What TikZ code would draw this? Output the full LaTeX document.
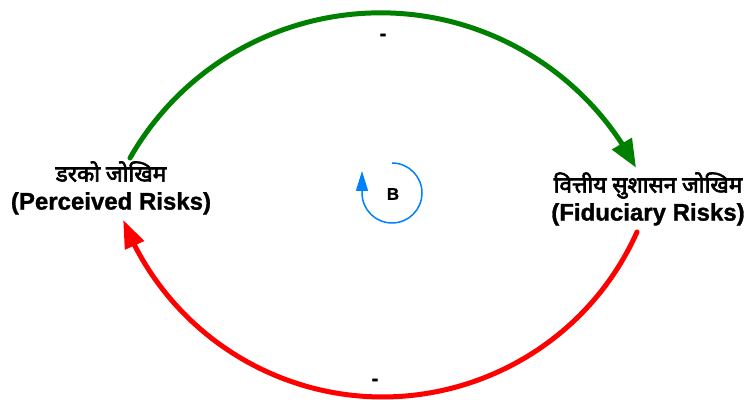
\documentclass[tikz,border=0pt]{standalone}
\usepackage{fontspec}
\setmainfont{Liberation Sans}[BoldFeatures={FakeBold=1.2}]
\newfontfamily\deva[Script=Devanagari, BoldFont={Noto Sans}, BoldFeatures={FakeBold=3}]{Noto Sans}
\usetikzlibrary{arrows.meta,bending}
\definecolor{lgreen}{RGB}{0,128,0}
\definecolor{lred}{RGB}{255,0,0}
\definecolor{lblue}{RGB}{0,128,255}
\begin{document}
\begin{tikzpicture}[x=1pt,y=1pt,
  lbl/.style={font=\bfseries\fontsize{24}{28}\selectfont, align=center, inner sep=0pt},
  sign/.style={font=\bfseries\fontsize{20}{24}\selectfont, inner sep=0pt},
  bigarc/.style={line width=5pt, line cap=round},
  loopline/.style={lblue, line width=1.5pt}]
\useasboundingbox (0,0) rectangle (749,399);
\node[lbl] (L) at (111,211) {{\deva\bfseries\fontsize{22.5}{28}\selectfont डरको जोखिम}\\{\bfseries (Perceived Risks)}};
\node[lbl] (R) at (648,200) {{\deva\bfseries\fontsize{22.5}{28}\selectfont वित्तीय सुशासन जोखिम}\\{\bfseries (Fiduciary Risks)}};
\coordinate (gs) at (130,241);
\coordinate (rs) at (637,167);
\coordinate (bs) at (392,236);
\draw[bigarc, lgreen, -{Triangle[length=28pt,width=22pt]}] (gs) arc[start angle=150.2, end angle=27.6, radius=288.5pt];
\draw[bigarc, lred, -{Triangle[length=28pt,width=20pt]}] (rs) arc[start angle=-24.1, end angle=-158.6, radius=278.7pt];
\draw[loopline, -{Triangle[length=20pt,width=12pt]}] (bs) arc[start angle=90, end angle=-180, radius=30pt] -- ++(0,22);
\node[sign] (p1) at (383,362) {-};
\node[sign] (p2) at (375,17) {-};
\node[font=\bfseries\fontsize{17}{20}\selectfont, inner sep=0pt] (B) at (393,205) {B};
\end{tikzpicture}
\end{document}
